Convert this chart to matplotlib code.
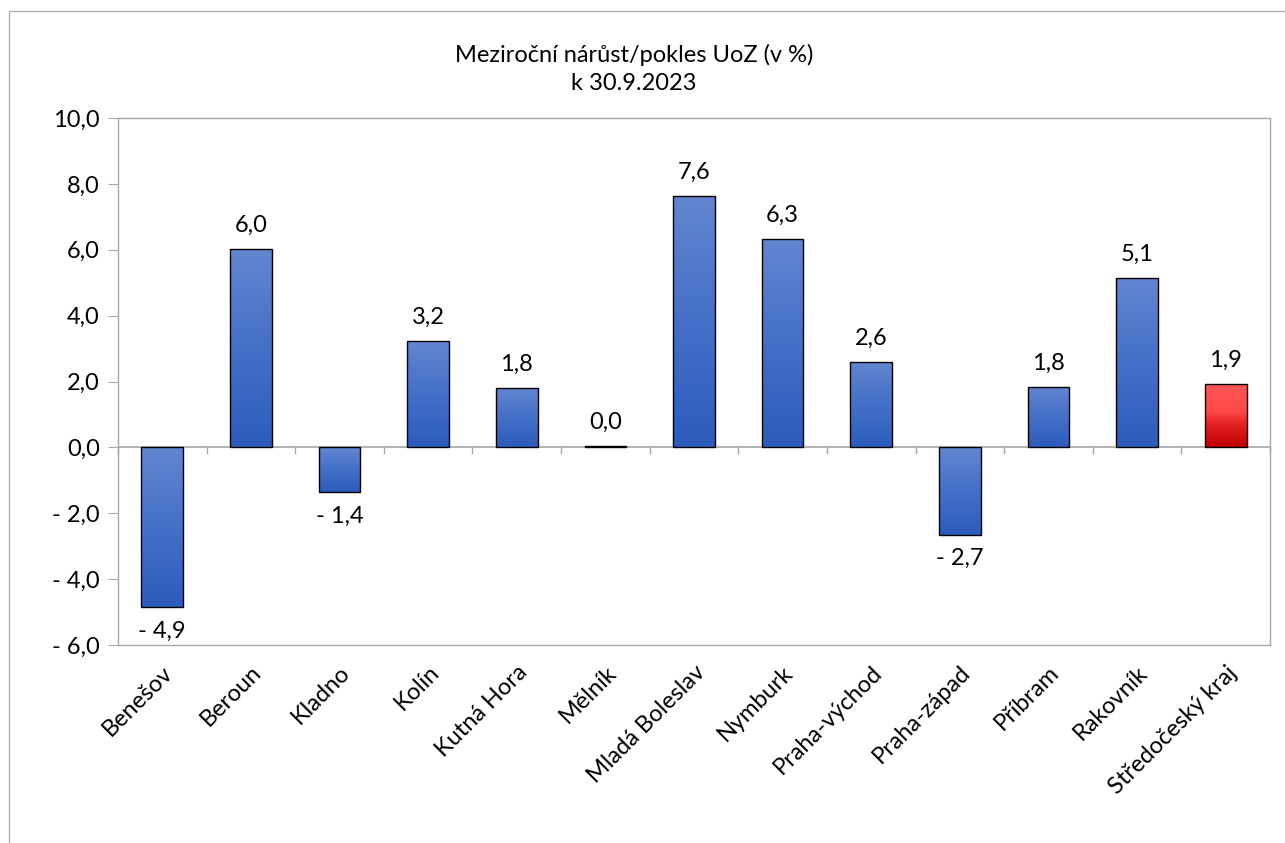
import numpy as np
import matplotlib.pyplot as plt
from matplotlib.colors import LinearSegmentedColormap
from matplotlib.patches import Rectangle

plt.rcParams["font.family"] = ["Lato", "DejaVu Sans"]

CATEGORIES = ["Benešov", "Beroun", "Kladno", "Kolín", "Kutná Hora", "Mělník",
              "Mladá Boleslav", "Nymburk", "Praha-východ", "Praha-západ",
              "Příbram", "Rakovník", "Středočeský kraj"]
VALUES = [-4.86, 6.03, -1.36, 3.23, 1.80, 0.03, 7.63, 6.33, 2.59, -2.66, 1.83, 5.14, 1.93]
YTICKS = [-6, -4, -2, 0, 2, 4, 6, 8, 10]
TITLE = "Meziroční nárůst/pokles UoZ (v %)\nk 30.9.2023"

GRAY = "#a6a6a6"
blue_cmap = LinearSegmentedColormap.from_list("b", ["#2c5cbc", "#4470c8", "#6386d0"])
red_cmap = LinearSegmentedColormap.from_list("r", [(0, "#c00000"), (0.4, "#e82828"), (0.55, "#ff4848"), (1, "#ff5656")])


def fmt(v):
    s = f"{abs(v):.1f}".replace(".", ",")
    return ("- " + s) if v < 0 and round(abs(v), 1) > 0 else s


fig = plt.figure(figsize=(12.85, 8.43), dpi=100)
fig.patches.append(Rectangle((9 / 1285, -0.1), 1.2, (843 - 11) / 843 + 0.1, transform=fig.transFigure,
                             fill=False, edgecolor="#b0b0b0", lw=1.0))
ax = fig.add_axes([118 / 1285, 1 - 645 / 843, 1152 / 1285, 527 / 843])

n = len(CATEGORIES)
x = np.arange(n)
width = 0.47
grad = np.linspace(0, 1, 256).reshape(-1, 1)
for i, v in enumerate(VALUES):
    cmap = red_cmap if i == n - 1 else blue_cmap
    lo, hi = min(0, v), max(0, v)
    rect = Rectangle((x[i] - width / 2, lo), width, hi - lo, facecolor="none",
                     edgecolor="black", lw=1.0, zorder=3)
    ax.add_patch(rect)
    im = ax.imshow(grad, cmap=cmap, extent=(x[i] - width / 2, x[i] + width / 2, lo, hi),
                   origin="lower", aspect="auto", zorder=2)
    im.set_clip_path(rect)
    if v >= 0:
        ax.text(x[i], v + 0.4, fmt(v), ha="center", va="bottom", fontsize=17)
    else:
        ax.text(x[i], v - 0.4, fmt(v), ha="center", va="top", fontsize=17)

ax.set_xlim(-0.5, n - 0.5)
ax.set_ylim(-6, 10)
ax.axhline(0, color=GRAY, lw=1.2, zorder=1)
for b in np.arange(n + 1) - 0.5:
    ax.plot([b, b], [0, -0.18], color=GRAY, lw=1.0, zorder=1, clip_on=False)

ax.set_yticks(YTICKS)
ax.set_yticklabels([fmt(t) for t in YTICKS], fontsize=17)
ax.tick_params(axis="y", direction="out", length=7, color=GRAY, pad=6)
ax.set_xticks(x)
ax.set_xticklabels(CATEGORIES, rotation=45, ha="right", rotation_mode="anchor", fontsize=17)
ax.tick_params(axis="x", length=0, pad=12)
for s in ax.spines.values():
    s.set_color(GRAY)
    s.set_linewidth(1.0)

fig.text(634 / 1285, 1 - 69 / 843, TITLE, ha="center", va="center", fontsize=17, linespacing=1.45)

fig.savefig("out.png", dpi=100)
